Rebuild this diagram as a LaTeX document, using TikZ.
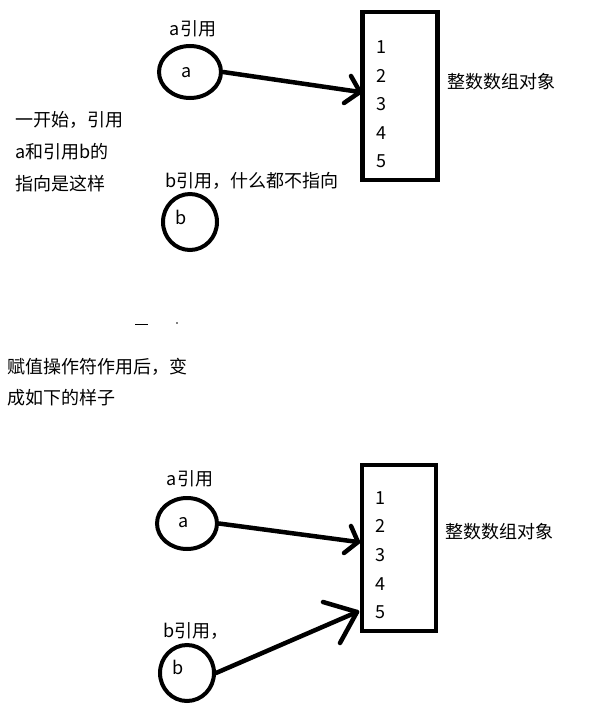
\documentclass[tikz,border=0pt]{standalone}
\usepackage{fontspec}
\setmainfont{Noto Sans CJK SC}
\usetikzlibrary{shapes.geometric}
\begin{document}
\begin{tikzpicture}[x=1pt,y=-1pt,
  refc/.style={draw,line width=4pt,ellipse,inner sep=0pt},
  arrbox/.style={draw,line width=4.5pt,minimum width=75pt,minimum height=168pt,inner sep=0pt},
  txt/.style={font=\fontsize{18}{20}\selectfont,inner sep=0pt},
  conn/.style={line width=4.5pt,line cap=round,line join=round}]
\fill[white] (0,0) rectangle (612,723);
\useasboundingbox (0,0) rectangle (612,723);

% ---------- top part ----------
\node[txt] (la1) at (193,29) {a引用};
\node[refc,minimum width=62pt,minimum height=52pt] (a1) at (190,72) {};
\node[txt] (ta1) at (187,73) {a};
\node[txt,anchor=west] (lb1) at (165,181) {b引用，什么都不指向};
\node[refc,minimum width=54pt,minimum height=56pt] (b1) at (190,222) {};
\node[txt] (tb1) at (181,217) {b};
\node[arrbox] (box1) at (400,96) {};
\foreach \i/\y in {1/47,2/76,3/104,4/133,5/161}
  \node[txt] (n1\i) at (381,\y) {\i};
\node[txt,anchor=west] (obj1) at (447,82) {整数数组对象};
\node[txt,anchor=west] (l1) at (15,120) {一开始，引用};
\node[txt,anchor=west] (l2) at (15,152) {a和引用b的};
\node[txt,anchor=west] (l3) at (15,184) {指向是这样};

\coordinate (tip1) at (360,92);
\coordinate (u1) at (351,76);
\coordinate (d1) at (344,103);
\draw[conn] (a1.east) -- (tip1);
\draw[conn] (u1) -- (tip1) -- (d1);

% stray marks
\draw[line width=1pt] (135,324) -- (148,324);
\fill (177,323) circle (0.8pt);

% ---------- middle text ----------
\node[txt,anchor=west] (m1) at (7,367) {赋值操作符作用后，变};
\node[txt,anchor=west] (m2) at (7,398) {成如下的样子};

% ---------- bottom part ----------
\node[txt] (la2) at (190,479) {a引用};
\node[refc,minimum width=60pt,minimum height=51pt] (a2) at (187,523.5) {};
\node[txt] (ta2) at (184,523) {a};
\node[txt,anchor=west] (lb2) at (163,631) {b引用，};
\node[refc,minimum width=54pt,minimum height=56pt] (b2) at (187,673) {};
\node[txt] (tb2) at (178,667) {b};
\node[arrbox,minimum width=74pt,minimum height=166pt] (box2) at (399,548) {};
\foreach \i/\y in {1/498,2/526,3/555,4/584,5/612}
  \node[txt] (n2\i) at (380,\y) {\i};
\node[txt,anchor=west] (obj2) at (445,532) {整数数组对象};

\coordinate (tip2) at (358,542);
\coordinate (u2) at (351,526);
\coordinate (d2) at (344,553);
\draw[conn] (a2.east) -- (tip2);
\draw[conn] (u2) -- (tip2) -- (d2);

\coordinate (tip3) at (357,612);
\coordinate (u3) at (323,602);
\coordinate (d3) at (340,643);
\draw[conn] (b2.east) -- (tip3);
\draw[conn] (u3) -- (tip3) -- (d3);
\end{tikzpicture}
\end{document}
